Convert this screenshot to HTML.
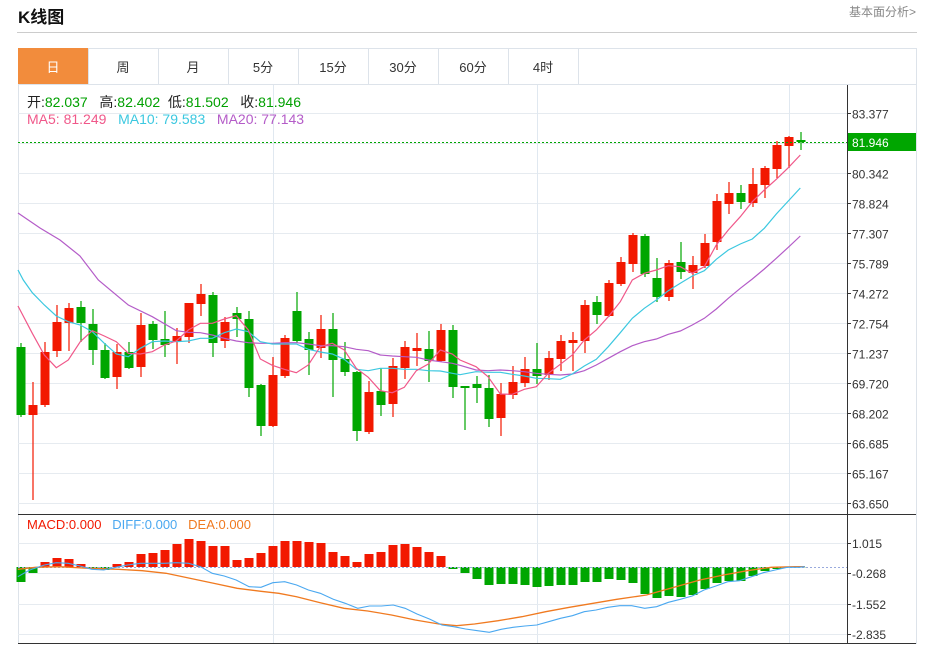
<!DOCTYPE html>
<html><head><meta charset="utf-8"><style>
body{margin:0;background:#fff;width:925px;height:646px;overflow:hidden;font-family:"Liberation Sans","Noto Sans CJK SC",sans-serif;position:relative}
.t{position:absolute;white-space:nowrap}
</style></head><body>
<div class="t" style="left:18px;top:3px;font-size:17px;font-weight:bold;color:#111">K线图</div>
<div class="t" style="left:849px;top:3px;font-size:12px;color:#888">基本面分析&gt;</div>
<div style="position:absolute;left:17px;top:32px;width:900px;height:1px;background:#ccc"></div>
<svg id="s" width="925" height="646" style="position:absolute;left:0;top:0" xmlns="http://www.w3.org/2000/svg" font-family="Liberation Sans, Noto Sans CJK SC, sans-serif"></svg>
<script>
var s=document.getElementById('s');var h='';
function L(x1,y1,x2,y2,c,w,d){h+='<line x1="'+x1+'" y1="'+y1+'" x2="'+x2+'" y2="'+y2+'" stroke="'+c+'" stroke-width="'+(w||1)+'"'+(d?' stroke-dasharray="'+d+'"':'')+'/>';}
function R(x,y,w,ht,f,st){h+='<rect x="'+x+'" y="'+y+'" width="'+w+'" height="'+ht+'" fill="'+f+'"'+(st?' stroke="'+st+'"':'')+'/>';}
function T(x,y,t,c,sz,a){h+='<text x="'+x+'" y="'+y+'" fill="'+c+'" font-size="'+sz+'"'+(a?' text-anchor="'+a+'"':'')+'>'+t+'</text>';}
function P(pts,c,w){h+='<polyline fill="none" stroke="'+c+'" stroke-width="'+(w||1)+'" points="'+pts.map(function(p){return p[0].toFixed(1)+','+p[1].toFixed(1)}).join(' ')+'"/>';}
R(18.5,48.5,898,595,'none','#dde3ea');
var tabs=['日','周','月','5分','15分','30分','60分','4时'];
L(18,84.5,916,84.5,'#dde3ea');
for(var i=0;i<8;i++){var x=18+70*i;if(i==0)R(x,48,70,36,'#f28c3c');else L(x+0.5,48,x+0.5,84,'#dde3ea');T(x+35,72,tabs[i],i==0?'#fff':'#333',13,'middle');}
L(578.5,48,578.5,84,'#dde3ea');
var ticks=['83.377','','80.342','78.824','77.307','75.789','74.272','72.754','71.237','69.720','68.202','66.685','65.167','63.650'];
for(var k=0;k<14;k++){var y=113+30*k+0.5;L(18,y,847,y,'#e6ebf0');if(ticks[k]){L(847,y,851,y,'#333');T(852,y+5,ticks[k],'#333',12);}}
[273,537,789].forEach(function(x){L(x+.5,85,x+.5,643,'#e0e8f0');});
[543,573,604,634].forEach(function(y,j){L(18,y+.5,847,y+.5,'#e6ebf0');L(847,y+.5,851,y+.5,'#333');T(852,y+5,['1.015','-0.268','-1.552','-2.835'][j],'#333',12);});
L(847.5,85,847.5,643,'#333');
L(18,514.5,916,514.5,'#333');
var C=[['g',347,415,343,417],['r',405,415,382,500],['r',352,405,342,407],['r',322,351,305,357],['r',308,323,303,351],['g',307,323,301,342],['g',324,350,309,365],['g',350,378,343,379],['r',352,377,344,389],['g',352,368,342,369],['r',325,367,313,377],['g',324,340,321,349],['g',339,345,311,357],['r',336,341,328,364],['r',303,337,303,343],['r',294,304,284,316],['g',295,343,292,357],['r',322,341,317,348],['g',313,319,307,337],['g',319,388,311,397],['g',385,426,384,436],['r',375,426,357,427],['r',338,376,335,378],['g',311,341,292,343],['g',339,350,332,375],['r',329,348,315,358],['g',329,360,313,397],['g',359,372,342,376],['g',372,431,371,441],['r',392,432,381,434],['g',391,405,368,416],['r',366,404,358,417],['r',347,368,341,379],['r',348,351,333,366],['g',349,361,331,382],['r',330,361,324,362],['g',330,387,325,398],
['g',386,388,386,430],['g',384,388,376,403],['g',388,419,375,427],['r',394,418,383,436],['r',382,395,366,399],['r',369,383,357,387],['g',369,376,343,384],['r',358,375,351,380],['r',341,359,335,371],['r',340,343,332,371],['r',305,341,300,353],['g',302,315,296,324],['r',283,316,280,317],['r',262,284,257,286],['r',235,264,233,272],['g',236,274,234,277],['g',278,297,258,302],['r',263,297,260,301],['g',262,272,242,279],['r',265,273,256,289],['r',243,266,234,268],['r',201,242,194,250],['r',193,204,182,214],['g',193,202,185,209],['r',184,203,168,207],['r',168,185,166,198],['r',145,169,141,178],['r',137,146,136,168],['g',140,142,132,150]];
var RED='#f21800',GRN='#00a600';
C.forEach(function(c,i){var x=21+12*i,col=c[0]=='r'?RED:GRN;L(x,c[3],x,c[4],col,1.2);R(x-4.5,c[1],9,Math.max(1.5,c[2]-c[1]),col);});
function z2(a){return a.map(function(p){return [p[0]/3,280+p[1]/3]});}
function z3(a){return a.map(function(p){return [460+p[0]/3,120+p[1]/3]});}
var ma5=[[18,306]].concat(z2([[97,160],[133,225],[169,263],[205,240],[241,185],[277,152],[313,168],[349,185],[385,220],[421,222],[457,215],[493,195],[529,183],[565,150],[601,130],[637,130],[673,117],[709,107],[745,150],[781,237],[817,256],[853,268],[889,278],[925,255],[961,200],[997,190],[1033,210],[1069,265],[1105,292],[1141,332],[1177,338],[1213,322],[1249,272],[1285,252],[1321,210],[1357,222],[1380,240]])).concat(z3([[48,740],[84,770],[121,822],[157,823],[193,808],[229,800],[265,760],[301,733],[337,705],[373,660],[409,630],[445,590],[481,545],[517,480],[553,460],[589,450],[625,437],[661,440],[697,460],[733,440],[769,375],[805,330],[841,290],[877,245],[913,210],[949,178],[985,143],[1021,105]]));
var ma10=[[18,270]].concat(z2([[70,0],[97,38],[133,75],[169,108],[205,125],[241,135],[277,155],[313,190],[349,222],[385,230],[421,205],[457,185],[493,183],[529,185],[565,183],[601,175],[637,175],[673,158],[709,147],[745,155],[781,185],[817,192],[853,192],[889,192],[925,208],[961,216],[997,222],[1033,238],[1069,268],[1105,272],[1141,265],[1177,265],[1213,268],[1249,268],[1285,272],[1321,273],[1357,280],[1380,284]])).concat(z3([[48,755],[84,757],[121,757],[157,763],[193,768],[229,775],[265,776],[301,778],[337,762],[373,738],[409,718],[445,680],[481,638],[517,595],[553,565],[589,540],[625,512],[661,490],[697,468],[733,452],[769,418],[805,390],[841,372],[877,357],[913,325],[949,282],[985,243],[1021,204]]));
var ma20=[[18,213],[40,228],[60,240],[80,256]].concat(z2([[295,0],[385,75],[457,110],[529,152],[565,157],[601,158],[637,165],[673,175],[709,183],[745,188],[781,190],[817,190],[853,188],[889,188],[925,192],[961,197],[997,197],[1033,200],[1069,208],[1105,212],[1141,225],[1177,228],[1213,230],[1249,232],[1285,240],[1321,245],[1357,250],[1380,256]])).concat(z3([[48,750],[84,752],[121,750],[157,752],[193,755],[229,760],[265,763],[301,765],[337,762],[373,752],[409,735],[445,715],[481,695],[517,677],[553,665],[589,657],[625,643],[661,633],[697,615],[733,595],[769,567],[805,535],[841,505],[877,477],[913,447],[949,415],[985,382],[1021,348]]));
P(ma20,'#b45cc8',1.2);P(ma10,'#3cc8e0',1.2);P(ma5,'#f0588a',1.2);
L(18,142.5,847,142.5,'#00a600',1,'2,2');
R(848,133,68,18,'#00a600');T(852,147,'81.946','#fff',12);
var M=[582,573,562,558,559,564,569,570,564,562,554,553,550,544,539,541,546,546,560,558,553,546,541,541,542,543,552,556,562,554,552,545,544,547,552,556,569,573,579,585,584,584,585,587,586,585,585,582,582,579,580,583,594,598,596,597,595,589,583,581,581,576,571,569,567.5,567.5];
var Z=567;
M.forEach(function(v,i){var x=21+12*i;if(i==6||i==7||i<2||i>35){R(x-4.5,Z,9,Math.max(0.5,v-Z),GRN);}else{R(x-4.5,v,9,Z-v,RED);}});
L(18,Z+.5,847,Z+.5,'#9ad','1','2,2');
function z4(a){return a.map(function(p){return [p[0]/1.686,510+p[1]/3]});}
P(z4([[30,178],[60,172],[100,170],[150,175],[200,178],[240,182],[280,190],[320,205],[360,220],[400,235],[440,244],[470,250],[500,260],[540,278],[580,295],[620,303],[660,315],[700,330],[740,342],[770,347],[800,342],[840,332],[880,320],[920,305],[960,292],[1000,280],[1040,268],[1090,255],[1120,240],[1150,225],[1180,210],[1220,195],[1260,182],[1300,172],[1340,170],[1357,170]]),'#f07a20',1.3);
P(z4([[30,200],[50,180],[75,165],[95,158],[115,160],[135,168],[155,178],[175,180],[195,172],[215,165],[237,160],[257,160],[277,160],[297,158],[318,160],[338,170],[358,190],[378,198],[398,210],[420,230],[440,232],[460,218],[480,215],[500,225],[520,240],[540,250],[562,268],[582,280],[603,295],[623,288],[643,288],[663,285],[683,295],[703,312],[725,328],[745,345],[765,350],[785,357],[805,362],[825,367],[845,358],[865,352],[885,348],[905,345],[925,335],[945,325],[965,317],[985,305],[1005,300],[1025,292],[1045,287],[1065,287],[1087,295],[1107,290],[1127,277],[1147,268],[1167,258],[1187,240],[1207,228],[1227,215],[1247,212],[1267,200],[1287,188],[1307,180],[1327,172],[1347,172],[1357,170]]),'#4aa8f0',1.1);
L(18,643.5,916,643.5,'#333');
s.innerHTML=h;
</script>
<div class="t" style="left:27px;top:92px;font-size:14px;color:#222">开:<span style="color:#00a000">82.037</span>&nbsp;&nbsp;&nbsp;高:<span style="color:#00a000">82.402</span>&nbsp;&nbsp;低:<span style="color:#00a000">81.502</span>&nbsp;&nbsp;&nbsp;收:<span style="color:#00a000">81.946</span></div>
<div class="t" style="left:27px;top:111px;font-size:14px"><span style="color:#f0588a">MA5: 81.249</span>&nbsp;&nbsp;&nbsp;<span style="color:#3cc8e0">MA10: 79.583</span>&nbsp;&nbsp;&nbsp;<span style="color:#b45cc8">MA20: 77.143</span></div>
<div class="t" style="left:27px;top:517px;font-size:13px"><span style="color:#f21800">MACD:0.000</span>&nbsp;&nbsp;&nbsp;<span style="color:#4aa8f0">DIFF:0.000</span>&nbsp;&nbsp;&nbsp;<span style="color:#f07a20">DEA:0.000</span></div>
</body></html>
